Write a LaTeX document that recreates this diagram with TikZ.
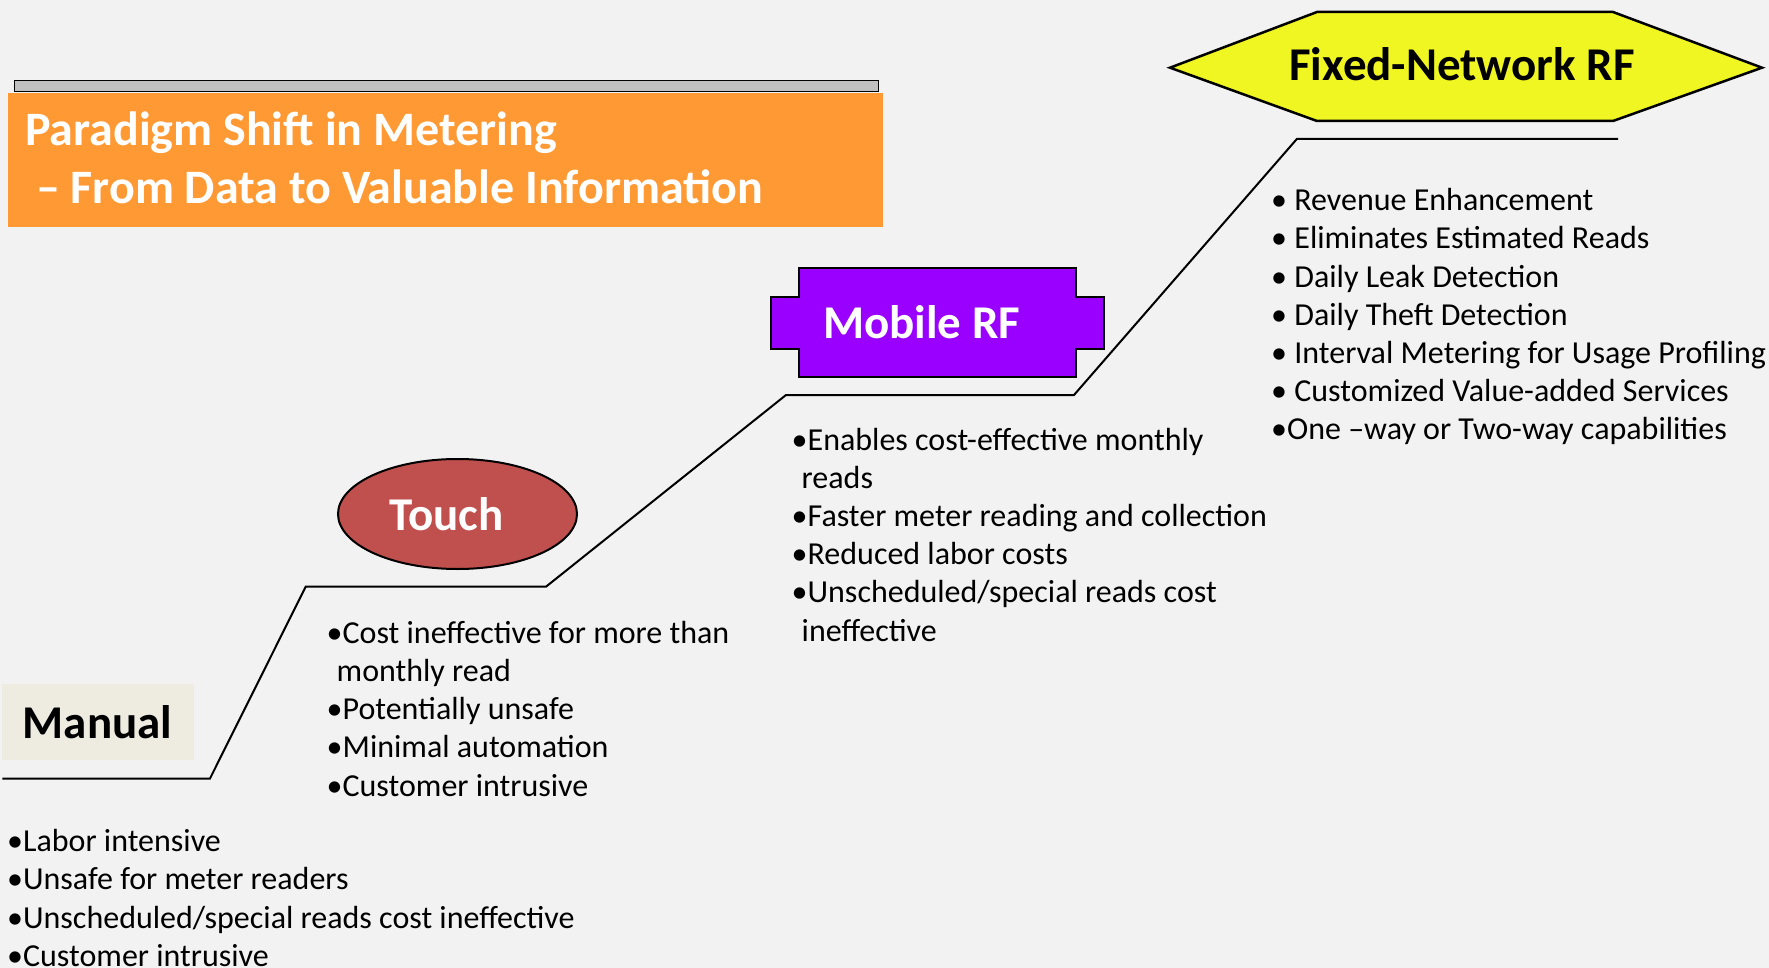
\documentclass[tikz,border=0pt]{standalone}
\usepackage{fontspec}
\setmainfont{Carlito}
\usetikzlibrary{shapes.geometric}

\definecolor{bgcol}{RGB}{242,242,242}
\definecolor{titleorange}{RGB}{255,153,51}
\definecolor{bargrey}{RGB}{192,192,192}
\definecolor{manualbeige}{RGB}{238,236,225}
\definecolor{touchred}{RGB}{192,80,77}
\definecolor{mobilepurple}{RGB}{153,0,255}
\definecolor{fixedyellow}{RGB}{240,246,34}

\begin{document}
\begin{tikzpicture}[
x=1pt, y=-1pt,
tag/.style={inner sep=0, anchor=base, font=\fontsize{47}{56}\selectfont\bfseries},
bullets/.style={inner sep=0, anchor=base west, align=left, font=\fontsize{32}{38.2}\selectfont},
stair/.style={line width=2pt},
outline/.style={draw=black, line width=2.5pt}
]
\useasboundingbox[fill=bgcol] (0,0) rectangle (1769,968);

% title banner
\node[draw=black, fill=bargrey, line width=1.2pt, minimum width=864pt, minimum height=11pt, anchor=north west, inner sep=0] (bar) at (13.5,80) {};
\node[fill=titleorange, minimum width=875pt, minimum height=134.5pt, anchor=north west, inner sep=0] (title) at (8,92.5) {};
% base of a multi-line node = baseline of its last line
\node[inner sep=0, anchor=base west, align=left, text=white, font=\fontsize{48}{57.3}\selectfont\bfseries] (titletext) at (25,203.3) {Paradigm Shift in Metering\\\ -- From Data to Valuable Information};

% the stairs
\draw[stair] (2.3,778.5) -- (210,778.5) -- (305.7,586.7) -- (546,586.7) -- (786,395) -- (1074,395) -- (1297,138.8) -- (1618,138.8);

% stages
\node[fill=manualbeige, minimum width=192pt, minimum height=76pt, anchor=north west, inner sep=0] (manual) at (2,684) {};
\node[tag] (manualtxt) at (97.5,738.3) {Manual};

\node[ellipse, draw=black, line width=2pt, fill=touchred, minimum width=239pt, minimum height=110pt, inner sep=0] (touch) at (457.5,514) {};
\node[tag, text=white] (touchtxt) at (446.5,530) {Touch};

\draw[outline, fill=mobilepurple] (799,268) -- (1076,268) -- (1076,297) -- (1104,297) -- (1104,349) -- (1076,349) -- (1076,377) -- (799,377) -- (799,349) -- (771,349) -- (771,297) -- (799,297) -- cycle;
\node[tag, text=white] (mobiletxt) at (921.5,338) {Mobile RF};

\draw[outline, fill=fixedyellow] (1170,67.7) -- (1317,12) -- (1613,12) -- (1762,67.7) -- (1613,121) -- (1317,121) -- cycle;
\node[tag] (fixedtxt) at (1462,81) {Fixed-Network RF};

% bullet lists
\node[bullets] (manuallist) at (7,966.3) {•Labor intensive\\•Unsafe for meter readers\\•Unscheduled/special reads cost ineffective\\•Customer intrusive};
\node[bullets] (touchlist) at (326.5,796.1) {•Cost ineffective for more than\\\hspace*{10pt}monthly read\\•Potentially unsafe\\•Minimal automation\\•Customer intrusive};
\node[bullets] (mobilelist) at (791.5,641) {•Enables cost-effective monthly\\\hspace*{10pt}reads\\•Faster meter reading and collection\\•Reduced labor costs\\•Unscheduled/special reads cost\\\hspace*{10pt}ineffective};
\node[bullets] (fixedlist) at (1271,439.9) {• Revenue Enhancement\\• Eliminates Estimated Reads\\• Daily Leak Detection\\• Daily Theft Detection\\• Interval Metering for Usage Profiling\\• Customized Value-added Services\\•One --way or Two-way capabilities};
\end{tikzpicture}
\end{document}
